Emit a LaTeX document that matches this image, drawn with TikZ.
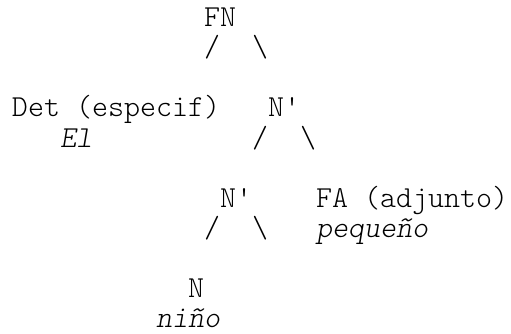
\documentclass[tikz,border=0pt]{standalone}
\usepackage{fontspec}
\newfontfamily\cour{lmmonolt10-regular.otf}[ItalicFont=lmmonolt10-oblique.otf]
\begin{document}
\begin{tikzpicture}[x=1pt,y=1pt,
  txt/.style={anchor=base west,inner sep=0pt,outer sep=0pt,
    font=\cour\fontsize{30.48}{30}\selectfont},
  word/.style={txt,font=\cour\itshape\fontsize{30.48}{30}\selectfont}]
\useasboundingbox (0,0) rectangle (511,-334);
% column c -> x = 12+16c ; row r -> y = -(27+30r)
\node[txt] (fn)    at (204,-27)  {FN};
\node[txt] (s1l)   at (204,-57)  {/};
\node[txt] (s1r)   at (252,-57)  {\textbackslash};
\node[txt] (det)   at (12,-117)  {Det (especif)};
\node[txt] (nb1)   at (268,-117) {N\textquotesingle};
\node[word] (el)   at (60,-147)  {El};
\node[txt] (s2l)   at (252,-147) {/};
\node[txt] (s2r)   at (300,-147) {\textbackslash};
\node[txt] (nb2)   at (220,-207) {N\textquotesingle};
\node[txt] (fa)    at (316,-207) {FA (adjunto)};
\node[txt] (s3l)   at (204,-237) {/};
\node[txt] (s3r)   at (252,-237) {\textbackslash};
\node[word] (peq)  at (316,-237) {pequeño};
\node[txt] (n)     at (188,-297) {N};
\node[word] (nino) at (156,-327) {niño};
\end{tikzpicture}
\end{document}
